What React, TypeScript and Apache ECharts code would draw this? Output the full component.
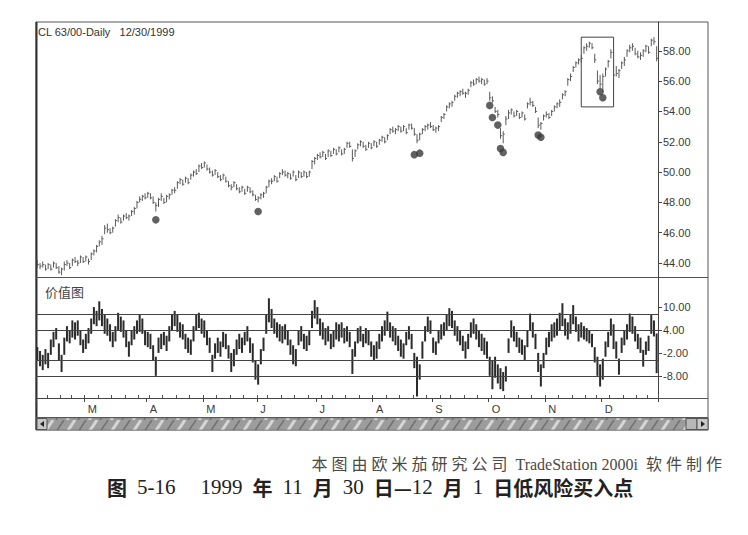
import React, { useEffect, useRef } from "react";
import * as echarts from "echarts";

// ---- calendar (trading days of 1999, Feb 2 .. Dec 30) ----
const tradingDays: number[][] = [
  [2, 3, 4, 5, 8, 9, 10, 11, 12, 16, 17, 18, 19, 22, 23, 24, 25, 26],
  [1, 2, 3, 4, 5, 8, 9, 10, 11, 12, 15, 16, 17, 18, 19, 22, 23, 24, 25, 26, 29, 30, 31],
  [1, 5, 6, 7, 8, 9, 12, 13, 14, 15, 16, 19, 20, 21, 22, 23, 26, 27, 28, 29, 30],
  [3, 4, 5, 6, 7, 10, 11, 12, 13, 14, 17, 18, 19, 20, 21, 24, 25, 26, 27, 28],
  [1, 2, 3, 4, 7, 8, 9, 10, 11, 14, 15, 16, 17, 18, 21, 22, 23, 24, 25, 28, 29, 30],
  [1, 2, 6, 7, 8, 9, 12, 13, 14, 15, 16, 19, 20, 21, 22, 23, 26, 27, 28, 29, 30],
  [2, 3, 4, 5, 6, 9, 10, 11, 12, 13, 16, 17, 18, 19, 20, 23, 24, 25, 26, 27, 30, 31],
  [1, 2, 3, 7, 8, 9, 10, 13, 14, 15, 16, 17, 20, 21, 22, 23, 24, 27, 28, 29, 30],
  [1, 4, 5, 6, 7, 8, 11, 12, 13, 14, 15, 18, 19, 20, 21, 22, 25, 26, 27, 28, 29],
  [1, 2, 3, 4, 5, 8, 9, 10, 11, 12, 15, 16, 17, 18, 19, 22, 23, 24, 26, 29, 30],
  [1, 2, 3, 6, 7, 8, 9, 10, 13, 14, 15, 16, 17, 20, 21, 22, 23, 27, 28, 29, 30],
];
const monthNumbers = [2, 3, 4, 5, 6, 7, 8, 9, 10, 11, 12];
const monthLetters = ["F", "M", "A", "M", "J", "J", "A", "S", "O", "N", "D"];

// ---- price bars (CL 63/00 daily) ----
const priceHigh = [
  44.2, 44.0, 44.1, 43.9, 44.0, 43.9, 44.1, 44.0, 43.8, 43.7,
  44.1, 44.2, 44.0, 44.3, 44.4, 44.2, 44.5, 44.4, 44.5, 44.3,
  44.7, 44.9, 45.2, 45.5, 45.8, 46.5, 46.6, 46.3, 46.4, 46.9,
  47.2, 47.0, 47.2, 47.3, 47.2, 47.5, 47.7, 48.1, 48.4, 48.5,
  48.6, 48.7, 48.6, 48.4, 48.0, 48.3, 48.6, 48.3, 48.5, 48.6,
  48.9, 49.0, 49.4, 49.6, 49.5, 49.7, 49.6, 49.9, 50.1, 50.2,
  50.5, 50.6, 50.7, 50.5, 50.3, 50.1, 50.2, 50.0, 49.8, 49.9,
  49.7, 49.4, 49.2, 49.4, 49.2, 49.0, 49.1, 48.9, 49.1, 49.0,
  48.8, 48.5, 48.4, 48.6, 48.7, 49.1, 49.5, 49.6, 49.8, 49.7,
  50.0, 50.2, 50.1, 50.0, 49.9, 50.1, 49.8, 50.1, 50.0, 50.1,
  50.0, 50.1, 50.8, 51.0, 51.2, 51.3, 51.4, 51.2, 51.5, 51.4,
  51.6, 51.5, 51.7, 51.5, 51.6, 52.0, 52.0, 51.5, 51.5, 51.9,
  52.1, 52.0, 51.8, 52.0, 51.9, 52.1, 52.0, 52.2, 52.4, 52.3,
  52.5, 52.9, 53.0, 52.9, 53.1, 53.0, 53.1, 52.9, 53.2, 53.2,
  52.9, 52.5, 52.6, 52.9, 53.1, 53.2, 53.3, 53.1, 53.0, 53.1,
  53.7, 53.9, 54.4, 54.6, 54.7, 55.1, 55.3, 55.4, 55.5, 55.3,
  55.5, 56.0, 56.1, 56.2, 56.3, 56.2, 56.1, 56.2, 55.3, 55.0,
  54.3, 54.1, 52.9, 52.7, 53.7, 54.1, 54.2, 54.0, 54.1, 53.9,
  54.0, 53.8, 54.6, 54.9, 54.7, 54.3, 53.6, 53.3, 53.8, 54.0,
  53.9, 54.1, 54.4, 54.6, 54.8, 55.2, 55.4, 56.2, 56.5, 57.0,
  57.3, 57.5, 57.7, 58.3, 58.5, 58.6, 58.5, 57.8, 56.7, 56.4,
  56.5, 56.9, 57.4, 58.1, 58.1, 57.0, 56.8, 57.3, 57.6, 58.1,
  58.4, 58.5, 58.2, 58.0, 57.9, 58.1, 58.4, 58.3, 58.8, 58.9,
  58.3,
];
const priceLow = [
  43.7, 43.6, 43.7, 43.5, 43.6, 43.5, 43.7, 43.6, 43.3, 43.2,
  43.5, 43.8, 43.6, 43.8, 44.0, 43.8, 44.0, 44.0, 44.1, 43.9,
  44.2, 44.5, 44.7, 45.1, 45.2, 45.9, 46.0, 45.9, 46.0, 46.4,
  46.7, 46.6, 46.8, 46.9, 46.8, 47.1, 47.2, 47.6, 48.0, 48.1,
  48.2, 48.3, 48.2, 47.9, 47.4, 47.7, 48.1, 47.9, 48.0, 48.2,
  48.5, 48.6, 48.9, 49.2, 49.1, 49.3, 49.2, 49.5, 49.7, 49.8,
  50.0, 50.2, 50.3, 50.1, 49.9, 49.7, 49.8, 49.6, 49.4, 49.5,
  49.3, 49.0, 48.8, 49.0, 48.8, 48.6, 48.7, 48.5, 48.7, 48.6,
  48.4, 48.1, 48.0, 48.2, 48.3, 48.6, 49.0, 49.2, 49.4, 49.3,
  49.6, 49.8, 49.7, 49.6, 49.5, 49.7, 49.4, 49.6, 49.6, 49.7,
  49.6, 49.7, 50.2, 50.5, 50.8, 50.9, 51.0, 50.8, 51.0, 51.0,
  51.2, 51.1, 51.3, 51.1, 51.2, 51.6, 51.6, 50.7, 51.0, 51.5,
  51.7, 51.6, 51.4, 51.6, 51.5, 51.7, 51.6, 51.8, 52.0, 51.9,
  52.1, 52.5, 52.6, 52.5, 52.7, 52.6, 52.7, 52.5, 52.8, 52.8,
  52.4, 51.9, 52.1, 52.5, 52.7, 52.8, 52.9, 52.7, 52.6, 52.7,
  53.3, 53.5, 54.0, 54.2, 54.3, 54.7, 54.9, 55.0, 55.1, 54.9,
  55.1, 55.6, 55.7, 55.8, 55.9, 55.8, 55.7, 55.8, 54.7, 54.6,
  53.9, 53.6, 52.2, 51.9, 53.1, 53.5, 53.8, 53.6, 53.7, 53.5,
  53.6, 53.4, 54.2, 54.4, 54.3, 53.9, 52.9, 52.8, 53.4, 53.6,
  53.5, 53.7, 54.0, 54.2, 54.3, 54.8, 55.0, 55.7, 56.0, 56.6,
  56.9, 57.1, 57.2, 57.8, 58.0, 58.2, 58.1, 57.2, 55.8, 55.5,
  55.3, 56.3, 56.9, 57.5, 56.0, 56.3, 56.2, 56.8, 57.0, 57.6,
  57.9, 58.0, 57.7, 57.5, 57.4, 57.6, 57.9, 57.8, 58.3, 58.4,
  57.3,
];
const priceClose = [
  43.9, 43.8, 43.9, 43.6, 43.9, 43.6, 44.0, 43.7, 43.4, 43.6,
  43.9, 44.0, 43.7, 44.2, 44.1, 44.0, 44.4, 44.1, 44.4, 44.1,
  44.6, 44.8, 45.1, 45.4, 45.6, 46.3, 46.2, 46.0, 46.3, 46.8,
  47.0, 46.7, 47.1, 47.0, 47.1, 47.4, 47.6, 48.0, 48.2, 48.4,
  48.3, 48.6, 48.3, 48.0, 47.8, 48.2, 48.4, 48.0, 48.4, 48.5,
  48.8, 48.8, 49.3, 49.5, 49.2, 49.6, 49.3, 49.8, 50.0, 49.9,
  50.4, 50.3, 50.6, 50.2, 50.0, 49.8, 50.1, 49.7, 49.5, 49.8,
  49.4, 49.1, 49.0, 49.3, 48.9, 48.7, 49.0, 48.6, 49.0, 48.7,
  48.5, 48.2, 48.3, 48.5, 48.6, 49.0, 49.4, 49.4, 49.7, 49.4,
  49.9, 50.0, 49.8, 49.9, 49.6, 50.0, 49.5, 50.0, 49.7, 50.0,
  49.7, 50.0, 50.7, 50.9, 51.1, 51.0, 51.3, 50.9, 51.4, 51.1,
  51.5, 51.2, 51.6, 51.2, 51.5, 51.9, 51.7, 50.9, 51.4, 51.8,
  52.0, 51.7, 51.5, 51.9, 51.6, 52.0, 51.7, 52.1, 52.3, 52.0,
  52.4, 52.8, 52.7, 52.8, 53.0, 52.7, 53.0, 52.6, 53.1, 52.9,
  52.5, 52.1, 52.5, 52.8, 53.0, 53.1, 53.0, 52.8, 52.9, 53.0,
  53.6, 53.8, 54.3, 54.5, 54.6, 55.0, 55.2, 55.3, 55.2, 55.2,
  55.4, 55.9, 55.8, 56.1, 56.0, 56.1, 55.8, 56.0, 54.9, 54.7,
  54.0, 53.8, 52.4, 52.5, 53.5, 53.9, 54.1, 53.7, 54.0, 53.6,
  53.9, 53.5, 54.5, 54.6, 54.4, 54.0, 53.1, 53.2, 53.7, 53.8,
  53.6, 54.0, 54.3, 54.5, 54.6, 55.1, 55.3, 56.1, 56.3, 56.9,
  57.2, 57.4, 57.5, 58.2, 58.3, 58.5, 58.2, 57.4, 56.0, 55.8,
  56.3, 56.8, 57.3, 57.9, 56.4, 56.5, 56.7, 57.2, 57.4, 58.0,
  58.2, 58.3, 57.8, 57.6, 57.7, 58.0, 58.3, 57.9, 58.7, 58.6,
  57.5,
];

// ---- value chart (价值图) bars ----
const vcHigh = [
  -0.5, -1.5, -2.5, -1.0, -2.0, 1.5, 3.5, 4.5, 0.5, -2.5,
  2.0, 5.0, 4.0, 6.5, 6.0, 6.5, 4.0, 1.5, 3.0, 4.5,
  7.0, 10.0, 9.0, 11.5, 9.5, 8.0, 7.0, 5.5, 3.5, 5.0,
  8.5, 7.5, 6.5, 4.0, 1.0, 4.0, 5.0, 6.5, 8.0, 7.0,
  4.0, 3.5, 3.0, 0.0, -3.0, 2.0, 3.0, 3.5, 2.5, 5.0,
  8.0, 9.0, 8.0, 6.0, 5.5, 3.0, 2.0, 1.5, 5.0, 8.0,
  8.5, 7.0, 6.5, 4.0, 2.0, -2.5, 0.5, 2.0, 1.0, 3.5,
  3.0, 0.0, -2.0, -1.0, 1.5, 3.0, 2.0, 3.5, 5.0, 2.0,
  0.5, -4.0, -5.0, -1.0, 2.0, 8.0, 12.3, 9.5, 7.0, 6.0,
  5.5, 5.0, 5.5, 4.0, 1.5, 0.0, -1.0, 4.0, 5.0, 3.0,
  2.5, 4.0, 9.0, 11.8, 10.0, 7.0, 6.0, 4.5, 5.0, 3.0,
  4.0, 6.0, 5.5, 6.0, 4.5, 5.0, 3.5, -1.0, 1.0, 4.5,
  5.0, 3.0, 4.5, 4.0, 1.0, 0.0, 1.0, 3.0, 5.0, 6.5,
  8.8, 6.0, 5.0, 4.5, 2.5, 1.5, 0.5, 3.5, 5.0, 3.0,
  -2.0, -3.0, -5.0, 1.0, 5.0, 7.5, 6.5, 2.0, 1.0, 4.0,
  5.5, 6.0, 8.0, 9.7, 9.0, 6.5, 5.0, 4.0, 2.5, 1.0,
  3.0, 6.0, 7.0, 5.5, 4.0, 3.0, 2.0, 1.0, -3.0, -4.0,
  -3.0, -5.0, -6.0, -7.0, -5.5, 1.8, 6.5, 5.0, 3.5, 2.0,
  1.5, 0.0, 4.0, 8.3, 6.0, 3.0, -2.0, -5.0, -2.0, 2.0,
  3.5, 5.5, 6.0, 7.0, 8.5, 11.0, 7.0, 6.0, 8.0, 10.5,
  7.5, 5.5, 6.0, 5.0, 4.5, 4.0, 3.0, -0.5, -3.0, -5.0,
  -3.5, 1.0, 3.5, 7.0, 5.5, 1.0, -3.5, 2.0, 4.0, 5.5,
  8.3, 7.5, 5.0, 3.0, 2.0, -1.2, 1.0, 2.5, 7.9, 6.5,
  3.1,
];
const vcLow = [
  -4.0, -5.5, -6.5, -5.0, -6.0, -2.5, -0.5, 1.5, -4.0, -7.0,
  -2.5, 1.0, 0.5, 2.0, 1.5, 2.5, 0.0, -2.0, -1.0, 0.5,
  3.0, 5.5, 5.0, 6.5, 5.0, 3.0, 2.5, 1.0, -0.5, 1.0,
  4.0, 3.5, 2.0, -0.5, -3.0, 0.0, 1.5, 3.0, 3.5, 3.0,
  0.0, -0.5, -1.0, -4.0, -8.0, -2.0, -1.0, 0.0, -1.5, 1.0,
  4.0, 5.0, 3.5, 2.0, 1.5, -1.0, -2.0, -2.5, 1.0, 4.0,
  4.5, 3.0, 2.0, 0.0, -2.0, -7.0, -3.5, -2.0, -3.0, -0.5,
  -1.0, -3.5, -7.0, -5.5, -2.5, -1.0, -2.0, 0.0, 1.0, -2.0,
  -4.5, -9.0, -10.3, -5.0, -1.5, 3.0, 6.0, 4.5, 3.0, 2.0,
  1.0, 0.5, 1.5, 0.0, -2.5, -5.0, -5.5, 0.0, 1.0, -1.0,
  -1.5, 0.0, 4.5, 7.0, 5.5, 2.5, 1.5, 0.0, 1.0, -1.0,
  -0.5, 1.5, 1.0, 2.0, 0.5, 1.0, -0.5, -7.5, -3.0, 0.5,
  1.0, -0.5, 0.5, 0.0, -3.0, -4.0, -3.5, -1.0, 1.0, 2.5,
  4.0, 2.0, 1.0, 0.0, -1.5, -3.0, -3.5, 0.0, 1.5, -1.0,
  -6.0, -13.4, -9.0, -3.5, 1.0, 3.5, 3.0, -2.0, -2.5, 0.5,
  1.5, 2.5, 4.0, 5.0, 4.5, 2.5, 1.0, 0.0, -1.5, -3.5,
  -1.0, 2.0, 3.0, 1.5, -0.5, -1.5, -2.5, -3.5, -8.0, -11.5,
  -8.5, -10.0, -11.5, -12.0, -9.5, -2.0, 2.0, 1.0, -0.5, -2.0,
  -2.5, -4.0, -0.5, 4.0, 2.0, -1.0, -7.0, -10.8, -6.0, -2.5,
  -0.5, 1.0, 2.0, 2.5, 4.0, 5.0, 2.5, 1.5, 3.0, 5.5,
  3.5, 1.0, 2.0, 1.5, 1.0, 0.5, -0.5, -4.5, -8.0, -10.8,
  -9.0, -3.0, -0.5, 2.5, -1.0, -3.5, -7.7, -2.0, 0.0, 1.5,
  3.5, 3.0, 1.0, -1.0, -2.0, -5.6, -2.5, -1.5, 3.0, 2.3,
  -7.3,
];
const vcLevels = [8, 4, -4, -8];

// ---- low-risk buy dots (bar index, price) ----
const dotIndex = [44, 82, 140, 142, 168, 169, 171, 172, 173, 186, 187, 209, 210];
const dotPrice = [46.85, 47.4, 51.15, 51.25, 54.4, 53.6, 53.1, 51.55, 51.3, 52.45, 52.3, 55.3, 54.9];

// highlighted box (bar index range, price range)
const boxIndex = [202, 214];
const boxPrice = [58.9, 54.3];

// ---- axis ticks ----
const priceTicks = [44, 46, 48, 50, 52, 54, 56, 58];
const vcTicks = [-8, -2, 4, 10];

const titleText = "CL 63/00-Daily   12/30/1999";
const panelLabel = "价值图";
const sourceText = "本 图 由 欧 米 茄 研 究 公 司  TradeStation 2000i  软 件 制 作";

function makePattern(): string {
  const c = document.createElement("canvas");
  c.width = 22;
  c.height = 12;
  const ctx = c.getContext("2d");
  if (!ctx) return "";
  ctx.fillStyle = "#9c9c9c";
  ctx.fillRect(0, 0, 22, 12);
  ctx.strokeStyle = "#d6d6d6";
  ctx.lineWidth = 3;
  ctx.beginPath();
  ctx.moveTo(1, 12);
  ctx.lineTo(9, 0);
  ctx.stroke();
  ctx.strokeStyle = "#707070";
  ctx.lineWidth = 1.5;
  ctx.beginPath();
  ctx.moveTo(12, 12);
  ctx.lineTo(20, 0);
  ctx.stroke();
  return c.toDataURL();
}

export default function App() {
  const ref = useRef<HTMLDivElement>(null);

  useEffect(() => {
    if (!ref.current) return;
    const chart = echarts.init(ref.current, undefined, { renderer: "svg" });

    const categories: string[] = [];
    const monthOfIndex: number[] = [];
    const monthStart = new Set<number>();
    tradingDays.forEach((days, mi) => {
      days.forEach((d, di) => {
        if (di === 0) monthStart.add(categories.length);
        categories.push(
          `1999-${String(monthNumbers[mi]).padStart(2, "0")}-${String(d).padStart(2, "0")}`
        );
        monthOfIndex.push(mi);
      });
    });
    const weekStart = new Set<number>();
    categories.forEach((c, i) => {
      if (i === 0) return;
      const wd = new Date(c + "T00:00:00Z").getUTCDay();
      const pw = new Date(categories[i - 1] + "T00:00:00Z").getUTCDay();
      if (wd < pw) weekStart.add(i);
    });

    const priceData = priceHigh.map((h, i) => [i, h, priceLow[i], priceClose[i]]);
    const vcData = vcHigh.map((h, i) => [i, h, vcLow[i]]);
    const dots = dotIndex.map((x, i) => [x, dotPrice[i]]);

    const axisFont = { fontFamily: "'Liberation Sans', Arial, sans-serif", fontSize: 11, color: "#3a3a3a" };
    let pattern: any = "#9c9c9c";
    const url = makePattern();
    if (url) pattern = { image: url, repeat: "repeat" };

    const L = 36;
    const R = 658;
    const RR = 708;

    chart.setOption({
      animation: false,
      backgroundColor: "#ffffff",
      grid: [
        { left: L, right: 748 - R, top: 22, height: 255 },
        { left: L, right: 748 - R, top: 278, height: 120 },
      ],
      xAxis: [
        {
          type: "category",
          gridIndex: 0,
          data: categories,
          boundaryGap: true,
          axisLine: { show: false },
          axisTick: { show: false },
          axisLabel: { show: false },
          splitLine: { show: false },
        },
        {
          type: "category",
          gridIndex: 1,
          data: categories,
          boundaryGap: true,
          position: "bottom",
          axisLine: { show: true, onZero: false, lineStyle: { color: "#444", width: 1 } },
          axisTick: {
            show: true,
            inside: true,
            length: 3,
            interval: (index: number) => weekStart.has(index),
            lineStyle: { color: "#555" },
          },
          axisLabel: { show: false },
          splitLine: { show: false },
        },
        {
          type: "category",
          gridIndex: 1,
          data: categories,
          boundaryGap: true,
          position: "bottom",
          offset: 0,
          axisLine: { show: false, onZero: false },
          axisTick: {
            show: true,
            length: 4,
            interval: (index: number) => monthStart.has(index),
            lineStyle: { color: "#444" },
          },
          axisLabel: {
            show: true,
            interval: (index: number) => index > 0 && monthStart.has(index),
            formatter: (_v: string, index: number) => monthLetters[monthOfIndex[index]],
            align: "left",
            margin: 5,
            padding: [0, 0, 0, 2],
            ...axisFont,
            fontSize: 11,
          },
          splitLine: { show: false },
        },
      ],
      yAxis: [
        {
          type: "value",
          gridIndex: 0,
          position: "right",
          min: 43.08,
          max: 59.9,
          axisLine: { show: true, onZero: false, lineStyle: { color: "#444", width: 1 } },
          axisTick: { show: true, length: 4, customValues: priceTicks, lineStyle: { color: "#444" } },
          axisLabel: {
            show: true,
            customValues: priceTicks,
            margin: 5,
            formatter: (v: number) => v.toFixed(2),
            ...axisFont,
          },
          splitLine: { show: false },
        },
        {
          type: "value",
          gridIndex: 1,
          position: "right",
          min: -13.8,
          max: 17.6,
          axisLine: { show: true, onZero: false, lineStyle: { color: "#444", width: 1 } },
          axisTick: { show: true, length: 4, customValues: vcTicks, lineStyle: { color: "#444" } },
          axisLabel: {
            show: true,
            customValues: vcTicks,
            margin: 5,
            formatter: (v: number) => v.toFixed(2),
            ...axisFont,
          },
          splitLine: { show: false },
        },
      ],
      series: [
        {
          type: "custom",
          name: "price",
          xAxisIndex: 0,
          yAxisIndex: 0,
          data: priceData,
          encode: { x: 0, y: [1, 2, 3] },
          silent: true,
          renderItem: (_p: any, api: any) => {
            const i = api.value(0);
            const hi = api.coord([i, api.value(1)]);
            const lo = api.coord([i, api.value(2)]);
            const cl = api.coord([i, api.value(3)]);
            const st = { stroke: "#5a5a5a", lineWidth: 1 };
            return {
              type: "group",
              children: [
                { type: "line", shape: { x1: hi[0], y1: hi[1], x2: lo[0], y2: lo[1] }, style: st },
                { type: "line", shape: { x1: cl[0], y1: cl[1], x2: cl[0] + 1.6, y2: cl[1] }, style: st },
              ],
            };
          },
        },
        {
          type: "scatter",
          name: "dots",
          xAxisIndex: 0,
          yAxisIndex: 0,
          data: dots,
          symbol: "circle",
          symbolSize: 7.5,
          silent: true,
          itemStyle: { color: "#3a3a3a" },
          markArea: {
            silent: true,
            label: { show: false },
            itemStyle: { color: "rgba(0,0,0,0)", borderColor: "#444", borderWidth: 1 },
            data: [
              [
                { coord: [categories[boxIndex[0]], boxPrice[0]] },
                { coord: [categories[boxIndex[1]], boxPrice[1]] },
              ],
            ],
          },
        },
        {
          type: "custom",
          name: "value chart",
          xAxisIndex: 1,
          yAxisIndex: 1,
          data: vcData,
          encode: { x: 0, y: [1, 2] },
          silent: true,
          renderItem: (_p: any, api: any) => {
            const i = api.value(0);
            const hi = api.coord([i, api.value(1)]);
            const lo = api.coord([i, api.value(2)]);
            return {
              type: "line",
              shape: { x1: hi[0], y1: hi[1], x2: lo[0], y2: lo[1] },
              style: { stroke: "#2b2b2b", lineWidth: 2 },
            };
          },
          markLine: {
            silent: true,
            symbol: "none",
            label: { show: false },
            lineStyle: { color: "#444", width: 1, type: "solid" },
            data: vcLevels.map((v) => ({ yAxis: v })),
          },
        },
      ],
      graphic: [
        { type: "rect", shape: { x: L, y: 22, width: RR - L, height: 408 }, style: { fill: "none", stroke: "#555", lineWidth: 1 }, silent: true },
        { type: "line", shape: { x1: L + 0.5, y1: 22, x2: L + 0.5, y2: 430 }, style: { stroke: "#333", lineWidth: 2 }, silent: true },
        { type: "line", shape: { x1: L, y1: 277.5, x2: RR, y2: 277.5 }, style: { stroke: "#555", lineWidth: 1 }, silent: true },
        { type: "line", shape: { x1: R, y1: 398.5, x2: RR, y2: 398.5 }, style: { stroke: "#555", lineWidth: 1 }, silent: true },
        { type: "line", shape: { x1: L, y1: 417.5, x2: RR, y2: 417.5 }, style: { stroke: "#555", lineWidth: 1 }, silent: true },
        { type: "rect", shape: { x: L + 1, y: 418, width: RR - L - 1, height: 12 }, style: { fill: pattern, stroke: "#666", lineWidth: 0.5 }, silent: true },
        { type: "rect", shape: { x: L + 1, y: 418.5, width: 10, height: 11 }, style: { fill: "#c8c8c8", stroke: "#555", lineWidth: 1 }, silent: true },
        { type: "polygon", shape: { points: [[44, 421], [44, 427], [40, 424]] }, style: { fill: "#222" }, silent: true },
        { type: "rect", shape: { x: RR - 22, y: 418.5, width: 11, height: 11 }, style: { fill: "#b8b8b8", stroke: "#555", lineWidth: 1 }, silent: true },
        { type: "rect", shape: { x: RR - 11, y: 418.5, width: 11, height: 11 }, style: { fill: "#c8c8c8", stroke: "#555", lineWidth: 1 }, silent: true },
        { type: "polygon", shape: { points: [[RR - 7, 421], [RR - 7, 427], [RR - 3, 424]] }, style: { fill: "#222" }, silent: true },
        {
          type: "text",
          silent: true,
          style: { x: 38, y: 32, text: titleText, verticalAlign: "middle", fill: "#333", font: "11px 'Liberation Sans', Arial, sans-serif" },
        },
        {
          type: "text",
          silent: true,
          style: { x: 45, y: 291, text: panelLabel, verticalAlign: "middle", fill: "#444", font: "13px 'Noto Sans CJK SC', sans-serif" },
        },
        {
          type: "text",
          silent: true,
          style: {
            x: 722,
            y: 464,
            text: sourceText,
            align: "right",
            verticalAlign: "middle",
            fill: "#4a4a4a",
            font: "16px 'Liberation Serif', 'Noto Sans CJK SC', serif",
          },
        },
        {
          type: "text",
          silent: true,
          style: {
            x: 107,
            y: 487,
            verticalAlign: "middle",
            align: "left",
            fill: "#222",
            font: "20px 'Liberation Serif', serif",
            text:
              "{c|图}  {d|5-16}     {d|1999}  {c|年}  {d|11}  {c|月}  {d|30}  {c|日—}{d|12}  {c|月}  {d|1}  {c|日低风险买入点}",
            rich: {
              c: { fontFamily: "'Noto Sans CJK SC', sans-serif", fontWeight: "bold", fontSize: 20, fill: "#222" },
              d: { fontFamily: "'Liberation Serif', serif", fontSize: 21, fill: "#222" },
            },
          },
        },
      ],
    });

    return () => chart.dispose();
  }, []);

  return (
    <div
      ref={ref}
      style={{ position: "fixed", left: 0, top: 0, width: 748, height: 535, background: "#fff" }}
    />
  );
}
